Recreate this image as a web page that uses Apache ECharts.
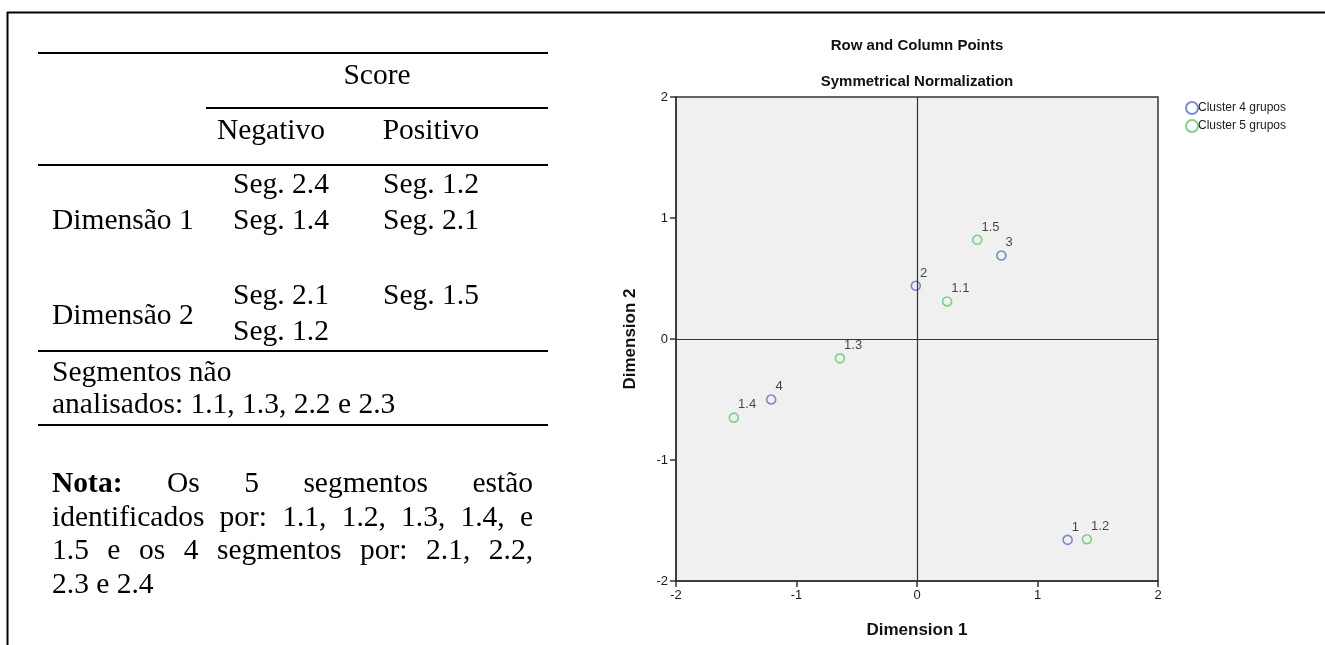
<!DOCTYPE html>
<html><head><meta charset="utf-8">
<script src="https://cdn.jsdelivr.net/npm/echarts@6/dist/echarts.min.js"></script>
<style>html,body{margin:0;padding:0;background:#fff}#c{width:1325px;height:645px}</style>
</head><body><div id="c"></div>
<script>
// ---- chart data ----
const seriesNames = ['Cluster 4 grupos', 'Cluster 5 grupos'];
const cluster4Labels = ['1', '2', '3', '4'];
const cluster4X = [1.25, -0.01, 0.70, -1.21];
const cluster4Y = [-1.66, 0.44, 0.69, -0.50];
const cluster5Labels = ['1.1', '1.2', '1.3', '1.4', '1.5'];
const cluster5X = [0.25, 1.41, -0.64, -1.52, 0.50];
const cluster5Y = [0.31, -1.655, -0.16, -0.65, 0.82];
const axisMin = -2, axisMax = 2, axisStep = 1;
const chartTitle = 'Row and Column Points';
const chartSubtitle = 'Symmetrical Normalization';
const xAxisName = 'Dimension 1';
const yAxisName = 'Dimension 2';

// ---- table text ----
const tableHeader = 'Score';
const tableColumns = ['Negativo', 'Positivo'];
const rowLabels = ['Dimensão 1', 'Dimensão 2'];
const dim1Neg = ['Seg. 2.4', 'Seg. 1.4'];
const dim1Pos = ['Seg. 1.2', 'Seg. 2.1'];
const dim2Neg = ['Seg. 2.1', 'Seg. 1.2'];
const dim2Pos = ['Seg. 1.5'];
const footLines = ['Segmentos não', 'analisados: 1.1, 1.3, 2.2 e 2.3'];
const notaLines = [
  ['Nota:', 'Os', '5', 'segmentos', 'estão'],
  ['identificados', 'por:', '1.1,', '1.2,', '1.3,', '1.4,', 'e'],
  ['1.5', 'e', 'os', '4', 'segmentos', 'por:', '2.1,', '2.2,'],
  ['2.3 e 2.4']
];

const SERIF = '"Liberation Serif", "Times New Roman", serif';
const SANS = '"Liberation Sans", Arial, sans-serif';
const FS = 29.5;
const fontN = FS + 'px ' + SERIF;
const fontB = 'bold ' + FS + 'px ' + SERIF;

const ctx = document.createElement('canvas').getContext('2d');
function measure(t, f) { ctx.font = f; return ctx.measureText(t).width; }

const g = [];
function txt(t, x, y, opt) {
  opt = opt || {};
  g.push({ type: 'text', x: x, y: y, silent: true,
    style: { text: t, font: opt.font || fontN, fill: opt.fill || '#000',
      align: opt.align || 'left', verticalAlign: 'middle' } });
}
function hline(x1, x2, y, w) {
  g.push({ type: 'line', silent: true, shape: { x1: x1, y1: y, x2: x2, y2: y },
    style: { stroke: '#000', lineWidth: w || 2 } });
}
// frame
hline(7, 1325, 12.5, 2);
g.push({ type: 'line', silent: true, shape: { x1: 7.5, y1: 12, x2: 7.5, y2: 645 }, style: { stroke: '#000', lineWidth: 2 } });

// table lines
hline(38, 548, 53);
hline(206, 548, 108);
hline(38, 548, 165);
hline(38, 548, 351);
hline(38, 548, 425);

// header
txt(tableHeader, 377, 76, { align: 'center' });
txt(tableColumns[0], 271, 131, { align: 'center' });
txt(tableColumns[1], 431, 131, { align: 'center' });
// Dimensão 1
txt(dim1Neg[0], 233, 185); txt(dim1Pos[0], 383, 185);
txt(rowLabels[0], 52, 221); txt(dim1Neg[1], 233, 221); txt(dim1Pos[1], 383, 221);
// Dimensão 2
txt(dim2Neg[0], 233, 296); txt(dim2Pos[0], 383, 296);
txt(rowLabels[1], 52, 316);
txt(dim2Neg[1], 233, 332);
// footer
txt(footLines[0], 52, 373);
txt(footLines[1], 52, 405);
// nota (justified)
const notaY = [484, 518, 551, 585];
const jx0 = 52, jx1 = 533;
notaLines.forEach(function (words, li) {
  const fonts = words.map(function (w, i) { return (li === 0 && i === 0) ? fontB : fontN; });
  if (words.length === 1) { txt(words[0], jx0, notaY[li]); return; }
  const widths = words.map(function (w, i) { return measure(w, fonts[i]); });
  const total = widths.reduce(function (a, b) { return a + b; }, 0);
  const gap = (jx1 - jx0 - total) / (words.length - 1);
  let x = jx0;
  words.forEach(function (w, i) { txt(w, x, notaY[li], { font: fonts[i] }); x += widths[i] + gap; });
});

// chart titles
txt(chartTitle, 917, 46, { align: 'center', font: 'bold 15px ' + SANS, fill: '#111' });
txt(chartSubtitle, 917, 82, { align: 'center', font: 'bold 15px ' + SANS, fill: '#111' });

function pts(labels, xs, ys) {
  return labels.map(function (l, i) { return { name: l, value: [xs[i], ys[i]] }; });
}
const colors = ['#5a70c4', '#5ec86a'];
function mkSeries(name, data, color, extra) {
  return Object.assign({
    name: name, type: 'scatter', data: data, symbol: 'circle', symbolSize: 9,
    itemStyle: { color: 'rgba(0,0,0,0)', borderColor: color, borderWidth: 1.6 },
    label: { show: true, formatter: '{b}', position: [9.5, -7.5], verticalAlign: 'middle', align: 'left',
      color: '#1a1a1a', fontSize: 13, fontFamily: SANS },
    emphasis: { disabled: true }
  }, extra || {});
}

const axisCommon = {
  type: 'value', min: axisMin, max: axisMax, interval: axisStep,
  axisLine: { onZero: false, lineStyle: { color: '#333', width: 1.5 } },
  axisTick: { show: true, length: 6, lineStyle: { color: '#333', width: 1.5 } },
  axisLabel: { color: '#1a1a1a', fontSize: 13, fontFamily: SANS, margin: 8 },
  splitLine: { show: false },
  nameLocation: 'middle',
  nameTextStyle: { fontWeight: 'bold', fontSize: 17, color: '#111', fontFamily: SANS }
};

const chart = echarts.init(document.getElementById('c'), null, { renderer: 'canvas' });
chart.setOption({
  animation: false,
  backgroundColor: '#fff',
  grid: { left: 676, top: 97, width: 482, height: 484, show: true,
    backgroundColor: '#f0f0f0', borderColor: '#333', borderWidth: 1.5, containLabel: false },
  xAxis: Object.assign({}, axisCommon, { name: xAxisName, nameGap: 41 }),
  yAxis: Object.assign({}, axisCommon, { name: yAxisName, nameGap: 37 }),
  legend: { orient: 'vertical', left: 1185, top: 101, padding: 0, itemWidth: 12, itemHeight: 12, itemGap: 4,
    icon: 'circle', data: seriesNames,
    textStyle: { color: '#1a1a1a', fontSize: 12, fontFamily: SANS, padding: [0, 0, 0, -5] } },
  series: [
    mkSeries(seriesNames[0], pts(cluster4Labels, cluster4X, cluster4Y), colors[0], {
      markLine: { silent: true, symbol: 'none', animation: false,
        lineStyle: { color: '#333', type: 'solid', width: 1.2 }, label: { show: false },
        data: [{ xAxis: 0 }, { yAxis: 0 }] }
    }),
    mkSeries(seriesNames[1], pts(cluster5Labels, cluster5X, cluster5Y), colors[1])
  ],
  graphic: g
});
</script></body></html>
